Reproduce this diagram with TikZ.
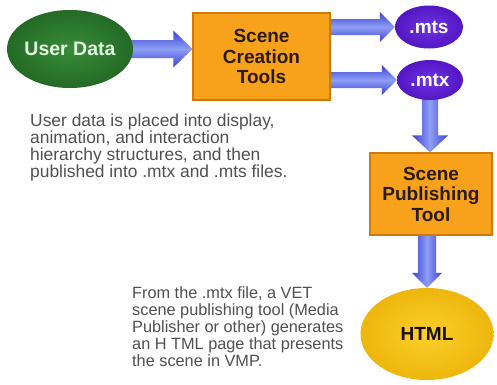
\documentclass[tikz,border=0pt]{standalone}
\usepackage{fontspec}
\setmainfont{Liberation Sans}
\usetikzlibrary{shapes.geometric,calc,backgrounds}

\definecolor{boxorange}{HTML}{F8A21C}
\definecolor{boxedge}{HTML}{CD7A0A}
\definecolor{boxtext}{HTML}{2B1A05}
\definecolor{greenin}{HTML}{388C38}
\definecolor{greenout}{HTML}{246A26}
\definecolor{violetin}{HTML}{7034E6}
\definecolor{violetout}{HTML}{5216C2}
\definecolor{goldin}{HTML}{FBD02A}
\definecolor{goldout}{HTML}{EDB60C}
\definecolor{arrowdark}{HTML}{3A40D4}
\definecolor{arrowlight}{HTML}{8E9EF4}
\definecolor{notegray}{HTML}{505050}

% horizontal block arrow: start, tip, half shaft, half head, head length
\newcommand\harrowlink[5]{%
  \shade[top color=arrowdark, bottom color=arrowdark, middle color=arrowlight]
    ($(#1)+(0,-#3)$) -- ($(#2)+(-#5,-#3)$) -- ($(#2)+(-#5,-#4)$) -- (#2)
    -- ($(#2)+(-#5,#4)$) -- ($(#2)+(-#5,#3)$) -- ($(#1)+(0,#3)$) -- cycle;}
% vertical (downward) block arrow: start, tip, half shaft, half head, head length
\newcommand\varrowlink[5]{%
  \shade[left color=arrowdark, right color=arrowdark, middle color=arrowlight]
    ($(#1)+(-#3,0)$) -- ($(#2)+(-#3,-#5)$) -- ($(#2)+(-#4,-#5)$) -- (#2)
    -- ($(#2)+(#4,-#5)$) -- ($(#2)+(#3,-#5)$) -- ($(#1)+(#3,0)$) -- cycle;}

\begin{document}
\begin{tikzpicture}[x=1pt,y=-1pt,
  box/.style={rectangle, fill=boxorange, draw=boxedge, line width=1.2pt,
    inner sep=0pt, align=center, text=boxtext,
    font=\bfseries\fontsize{19}{20.5}\selectfont},
  blob/.style={ellipse, inner sep=0pt, shading=radial},
  note/.style={anchor=north west, align=left, inner sep=0pt, text=notegray}
]
\useasboundingbox (0,0) rectangle (497,384);

% sources and products
\node[blob, inner color=greenin, outer color=greenout,
  minimum width=126pt, minimum height=78pt, text=white!90!green,
  font=\bfseries\fontsize{19.5}{20}\selectfont] (ud) at (70,49) {\makebox[0pt]{User Data}};
\node[box, minimum width=137pt, minimum height=87pt] (sct) at (261.5,56.5)
  {Scene\\Creation\\Tools};
\node[blob, inner color=violetin, outer color=violetout,
  minimum width=68pt, minimum height=43pt, text=white,
  font=\bfseries\fontsize{19}{20}\selectfont] (mts) at (429,27) {.mts};
\node[blob, inner color=violetin, outer color=violetout,
  minimum width=66pt, minimum height=40pt, text=white,
  font=\bfseries\fontsize{19}{20}\selectfont] (mtx) at (430,80) {.mtx};
\node[box, minimum width=122pt, minimum height=82pt] (spt) at (431,194)
  {Scene\\Publishing\\Tool};
\node[blob, inner color=goldin, outer color=goldout,
  minimum width=133pt, minimum height=92pt, text=black!90!orange,
  font=\bfseries\fontsize{19}{20}\selectfont] (html) at (427,334) {HTML};

% explanatory notes
\node[note, font=\fontsize{17.4}{17}\selectfont] (note1) at (30,114)
  {User data is placed into display,\\animation, and interaction\\hierarchy structures, and then\\published into .mtx and .mts files.};
\node[note, font=\fontsize{16.3}{17.2}\selectfont] (note2) at (132,286)
  {From the .mtx file, a VET\\scene publishing tool (Media\\Publisher or other) generates\\an H TML page that presents\\the scene in VMP.};

% flow arrows, drawn underneath the shapes
\coordinate (a1s) at (ud.center);
\coordinate (a1e) at (ud.center -| sct.west);
\coordinate (a2s) at (sct.center |- mts.center);
\coordinate (a2e) at (mts.west);
\coordinate (a3s) at (sct.center |- mtx.center);
\coordinate (a3e) at (mtx.west);
\coordinate (a4s) at (mtx.center);
\coordinate (a4e) at (mtx.center |- spt.north);
\coordinate (a5s) at (html.north |- spt.center);
\coordinate (a5e) at (html.north);
\begin{pgfonlayer}{background}
  \fill[white] (0,0) rectangle (497,384);
  \harrowlink{a1s}{a1e}{9}{18.5}{19}
  \harrowlink{a2s}{a2e}{8}{15}{15}
  \harrowlink{a3s}{a3e}{8}{15}{15}
  \varrowlink{a4s}{a4e}{8}{18}{17}
  \varrowlink{a5s}{a5e}{9}{15}{15}
\end{pgfonlayer}
\end{tikzpicture}
\end{document}
